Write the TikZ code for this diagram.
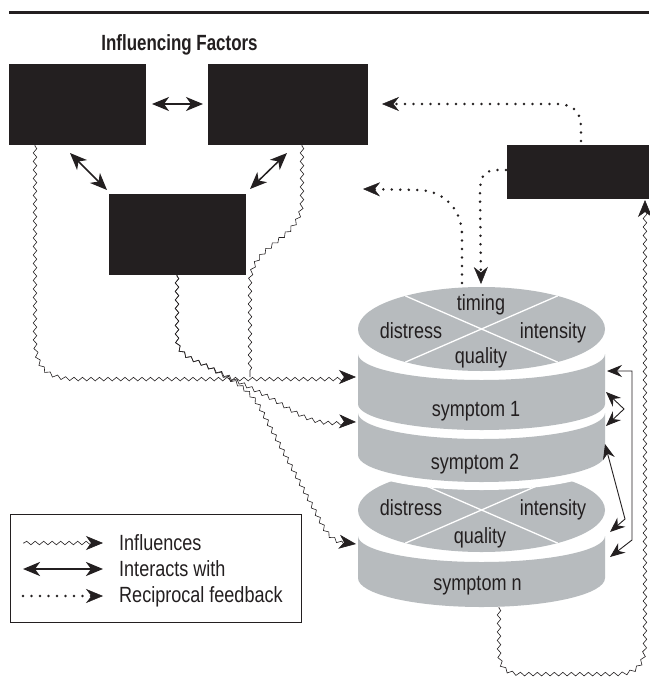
\documentclass[tikz,border=0pt]{standalone}
\usepackage{fontspec}
\setmainfont{Liberation Sans}
\newfontfamily\labf[FakeStretch=0.82]{Liberation Sans}
\newfontfamily\titlef[FakeStretch=0.77]{Liberation Sans}
\usetikzlibrary{arrows.meta,decorations.pathmorphing}
\definecolor{ink}{HTML}{231F20}
\definecolor{cyl}{RGB}{183,187,190}
\tikzset{
  >={Stealth[length=17pt,width=14pt,inset=5pt]},
  thintip/.tip={Stealth[length=15pt,width=12pt,inset=5pt]},
  dtip/.tip={Stealth[length=17pt,width=14pt,inset=5.5pt,line width=0.4pt]},
  blk/.style={fill=ink,draw=none,inner sep=0pt,outer sep=0pt,anchor=north west},
  lbl/.style={text=ink,font=\labf\fontsize{22}{24}\selectfont,inner sep=0pt,anchor=base},
  leglbl/.style={lbl,anchor=base west},
  interact/.style={draw=ink,line width=1.5pt,<->},
  thinint/.style={draw=ink,line width=0.9pt,thintip-thintip},
  wavy/.style={draw=ink,line width=0.6pt,decorate,
    decoration={snake,amplitude=1.8pt,segment length=8.5pt,post length=5pt,pre length=1pt}},
  dotline/.style={draw=ink,line width=2.8pt,line cap=round,dash pattern=on 0pt off 8.5pt},
  xline/.style={draw=white,line width=1.3pt},
}
\begin{document}
\begin{tikzpicture}[x=1pt,y=1pt]
\useasboundingbox (0,0) rectangle (649,-688);
\fill[white] (0,0) rectangle (649,-688);
% top rule
\coordinate (r0) at (9,-12.5);
\coordinate (r1) at (649,-12.5);
\draw[ink,line width=3pt] (r0) -- (r1);
% title
\node[text=ink,font=\titlef\bfseries\fontsize{22}{24}\selectfont,inner sep=0pt,anchor=base] (title) at (179.5,-50) {Influencing Factors};
% boxes
\node[blk,minimum width=137pt,minimum height=81pt] (A) at (9,-64) {};
\node[blk,minimum width=160pt,minimum height=81pt] (B) at (208,-64) {};
\node[blk,minimum width=137pt,minimum height=81pt] (C) at (109,-194) {};
\node[blk,minimum width=142pt,minimum height=54pt] (D) at (507,-145) {};

% ---------- cylinder stack ----------
% lower block side (symptom n)
\fill[cyl] (358,-536) -- (358,-578) arc[start angle=180,end angle=360,x radius=123.5pt,y radius=29pt]
  -- (605,-536) arc[start angle=0,end angle=-180,x radius=123.5pt,y radius=26pt] -- cycle;
% lower face
\fill[cyl] (481.5,-510) ellipse[x radius=123.5pt,y radius=42pt];
\draw[xline] (405.4,-476.9) -- (557.6,-543.1);
\draw[xline] (557.6,-476.9) -- (405.4,-543.1);
% white gap under symptom 2
\fill[white] (358,-440) -- (358,-463) arc[start angle=180,end angle=360,x radius=123.5pt,y radius=27pt]
  -- (605,-440) -- cycle;
% symptom 2 side
\fill[cyl] (358,-413) -- (358,-455) arc[start angle=180,end angle=360,x radius=123.5pt,y radius=27pt]
  -- (605,-413) arc[start angle=0,end angle=-180,x radius=123.5pt,y radius=26pt] -- cycle;
% symptom 1 side
\fill[cyl] (358,-354) -- (358,-404) arc[start angle=180,end angle=360,x radius=123.5pt,y radius=26pt]
  -- (605,-354) arc[start angle=0,end angle=-180,x radius=123.5pt,y radius=26pt] -- cycle;
% upper face
\fill[cyl] (481.5,-329) ellipse[x radius=123.5pt,y radius=42pt];
\draw[xline] (405.4,-295.9) -- (557.6,-362.1);
\draw[xline] (557.6,-295.9) -- (405.4,-362.1);
% labels
\node[lbl] (t1) at (481,-310) {timing};
\node[lbl] (t2) at (411,-338) {distress};
\node[lbl] (t3) at (553,-338) {intensity};
\node[lbl] (t4) at (481,-363) {quality};
\node[lbl] (s1) at (476,-416) {symptom 1};
\node[lbl] (s2) at (475,-469) {symptom 2};
\node[lbl] (t5) at (411,-515) {distress};
\node[lbl] (t6) at (553,-515) {intensity};
\node[lbl] (t7) at (480,-543) {quality};
\node[lbl] (sn) at (477.5,-590) {symptom n};

% ---------- interactions between boxes ----------
\coordinate (ab1) at (152,-104);
\coordinate (ab2) at (203,-104);
\coordinate (ac1) at (70,-153);
\coordinate (ac2) at (107,-190);
\coordinate (bc1) at (287,-153);
\coordinate (bc2) at (250,-189);
\draw[interact] (ab1) -- (ab2);
\draw[interact] (ac1) -- (ac2);
\draw[interact] (bc1) -- (bc2);

% ---------- interactions between symptoms ----------
\coordinate (ra1) at (607,-371);
\coordinate (ra2) at (610,-557);
\coordinate (rb1) at (606,-392);
\coordinate (rb2) at (606,-426);
\coordinate (rc1) at (605,-444);
\coordinate (rc2) at (610,-532);
\draw[thinint] (ra1) -- (632,-371) -- (632,-540) -- (ra2);
\draw[thinint] (rb1) -- (624,-409) -- (rb2);
\draw[thinint] (rc1) -- (625,-519) -- (rc2);

% ---------- influences ----------
\coordinate (a1) at (35,-145);
\coordinate (b1) at (302,-145);
\coordinate (c1) at (177,-275);
\coordinate (j1) at (250,-377);
\coordinate (i1) at (356,-377);
\coordinate (i2) at (356,-422);
\coordinate (i3) at (356,-544);
\coordinate (n1) at (499,-607);
\coordinate (d1) at (645,-200);
\draw[wavy,->] (a1) -- (35,-335) .. controls (35,-368) and (48,-377) .. (78,-377) -- (i1);
\draw[wavy] (b1) -- (302,-198) .. controls (302,-240) and (250,-240) .. (250,-282) -- (j1);
\draw[wavy,->] (c1) -- (177,-336) .. controls (177,-352) and (190,-356) .. (205,-363)
  -- (265,-393) .. controls (290,-406) and (305,-420) .. (330,-421) -- (i2);
\draw[wavy,->] (c1) -- (177,-336) .. controls (177,-352) and (190,-356) .. (205,-363)
  -- (235,-380) .. controls (250,-390) and (258,-400) .. (265,-415) -- (322,-522)
  .. controls (328,-534) and (336,-542) .. (i3);
\draw[wavy,->] (n1) -- (499,-645) .. controls (499,-667) and (505,-672) .. (525,-672)
  -- (615,-672) .. controls (638,-672) and (645,-662) .. (645,-640) -- (d1);

% ---------- reciprocal feedback ----------
\coordinate (d2) at (581,-141);
\coordinate (f1) at (382,-104);
\coordinate (d3) at (506,-170);
\coordinate (ct1) at (481,-284);
\coordinate (ct2) at (462,-283);
\coordinate (f3) at (363,-189);
\draw[dotline,-dtip] (d2) -- (581,-128) .. controls (581,-110) and (572,-104) .. (555,-104) -- (f1);
\draw[dotline,-dtip] (d3) -- (495,-170) .. controls (482,-171) and (480,-180) .. (480,-192) -- (ct1);
\draw[dotline,-dtip] (ct2) -- (462,-235) .. controls (462,-208) and (442,-190) .. (418,-190) -- (f3);

% ---------- legend ----------
\node[draw=ink,line width=1pt,minimum width=291pt,minimum height=108pt,inner sep=0pt,anchor=north west] (leg) at (10,-514) {};
\coordinate (la1) at (23,-543);
\coordinate (la2) at (103,-543);
\coordinate (lb1) at (23,-569);
\coordinate (lb2) at (103,-569);
\coordinate (lc1) at (23,-596);
\coordinate (lc2) at (103,-596);
\draw[wavy,->] (la1) -- (la2);
\draw[draw=ink,line width=2.5pt,<->] (lb1) -- (lb2);
\draw[dotline,-dtip] (lc1) -- (lc2);
\node[leglbl] (lt1) at (119,-550) {Influences};
\node[leglbl] (lt2) at (119,-576) {Interacts with};
\node[leglbl] (lt3) at (119,-602) {Reciprocal feedback};
\end{tikzpicture}
\end{document}
